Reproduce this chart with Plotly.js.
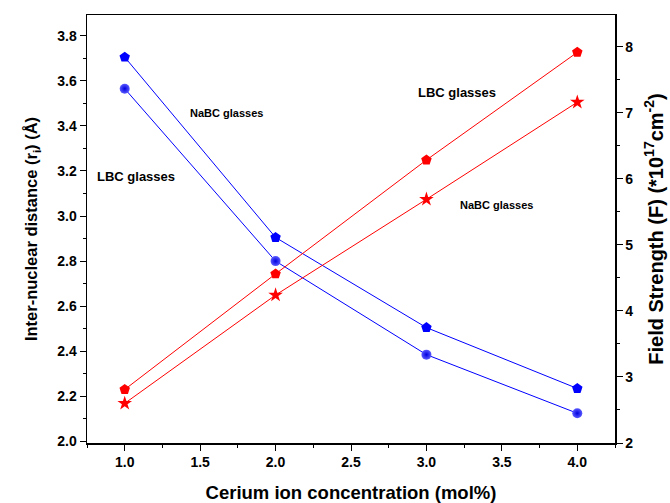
<!DOCTYPE html>
<html>
<head>
<meta charset="utf-8">
<script src="https://cdn.plot.ly/plotly-3.0.1.min.js"></script>
<style>html,body{margin:0;padding:0;background:#fff;}#chart{width:670px;height:503px;}</style>
</head>
<body>
<div id="chart"></div>
<script>
// Data
const concentration = [1.0, 2.0, 3.0, 4.0];
const riLBC = [3.705, 2.905, 2.505, 2.235];   // blue pentagons (left axis)
const riNaBC = [3.565, 2.80, 2.385, 2.125];   // blue spheres (left axis)
const fsLBC = [2.81, 4.56, 6.285, 7.915];     // red pentagons (right axis)
const fsNaBC = [2.60, 4.24, 5.69, 7.16];      // red stars (right axis)

const FONT = 'Liberation Sans, Arial, Helvetica, sans-serif';
const blue = '#0000ff', red = '#ff0000';

const traces = [
  {x: concentration, y: riLBC, type: 'scatter', mode: 'lines+markers', yaxis: 'y',
   line: {color: blue, width: 1}, marker: {symbol: 'pentagon', size: 11, color: blue}},
  {x: concentration, y: riNaBC, type: 'scatter', mode: 'lines+markers', yaxis: 'y',
   line: {color: blue, width: 1},
   marker: {symbol: 'circle', size: 10, color: '#5a5aff', gradient: {type: 'radial', color: '#0000e0'}}},
  {x: concentration, y: fsLBC, type: 'scatter', mode: 'lines+markers', yaxis: 'y2',
   line: {color: red, width: 1}, marker: {symbol: 'pentagon', size: 11, color: red}},
  {x: concentration, y: fsNaBC, type: 'scatter', mode: 'lines+markers', yaxis: 'y2',
   line: {color: red, width: 1}, marker: {symbol: 'star', size: 11, color: red}}
];

const tickFont = {family: FONT, size: 14, color: '#000', weight: 'bold'};
function tfont(size) { return {family: FONT, size: size, color: '#000', weight: 'bold'}; }

function label(x, y, text, size) {
  return {xref: 'paper', yref: 'paper', x: x, y: y, xanchor: 'center', yanchor: 'middle',
          text: text, showarrow: false,
          font: {family: FONT, size: size, color: '#000', weight: 'bold'}};
}

const layout = {
  width: 670, height: 503,
  margin: {l: 87, r: 55, t: 15, b: 60},
  paper_bgcolor: '#fff', plot_bgcolor: '#fff',
  showlegend: false,
  font: {family: FONT, color: '#000'},
  xaxis: {
    range: [0.75, 4.25], tick0: 1, dtick: 0.5, tickformat: '.1f',
    ticks: 'outside', ticklen: 6, tickwidth: 1, tickcolor: '#000',
    minor: {dtick: 0.25, ticks: 'outside', ticklen: 3, tickcolor: '#000', showgrid: false},
    showline: true, linecolor: '#000', linewidth: 1.5, mirror: true,
    showgrid: false, zeroline: false, tickfont: tickFont,
    title: {text: 'Cerium ion concentration (mol%)', font: tfont(18.5), standoff: 18}
  },
  yaxis: {
    range: [1.993, 3.892], tick0: 2.0, dtick: 0.2, tickformat: '.1f',
    ticks: 'outside', ticklen: 6, tickwidth: 1, tickcolor: '#000',
    minor: {dtick: 0.1, ticks: 'outside', ticklen: 3, tickcolor: '#000', showgrid: false},
    showline: true, linecolor: '#000', linewidth: 1.5,
    showgrid: false, zeroline: false, tickfont: tickFont,
    title: {text: 'Inter-nuclear distance (r<sub>i</sub>) (Å)', font: tfont(16.5), standoff: 15}
  },
  yaxis2: {
    overlaying: 'y', side: 'right',
    range: [2, 8.48], tick0: 2, dtick: 1,
    ticks: 'outside', ticklen: 6, tickwidth: 1, tickcolor: '#000',
    minor: {dtick: 0.5, ticks: 'outside', ticklen: 3, tickcolor: '#000', showgrid: false},
    showline: true, linecolor: '#000', linewidth: 1.5,
    showgrid: false, zeroline: false, tickfont: tickFont,
    title: {text: 'Field Strength (F) (*10<sup>17</sup>cm<sup>-2</sup>)', font: tfont(20), standoff: 16}
  },
  annotations: [
    label(0.2646, 0.770, 'NaBC glasses', 11),
    label(0.0928, 0.622, 'LBC glasses', 13),
    label(0.7008, 0.8194, 'LBC glasses', 13),
    label(0.7765, 0.556, 'NaBC glasses', 11)
  ]
};

Plotly.newPlot('chart', traces, layout, {staticPlot: true, displayModeBar: false});
</script>
</body>
</html>
